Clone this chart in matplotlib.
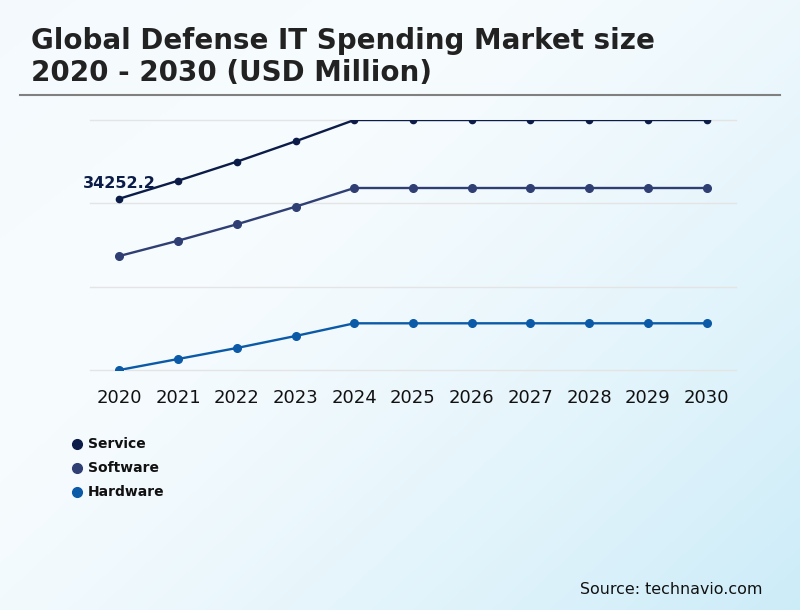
import numpy as np
import matplotlib
matplotlib.use("Agg")
import matplotlib.pyplot as plt
from matplotlib.lines import Line2D

plt.rcParams["font.family"] = ["DejaVu Sans"]

YEARS = [2020, 2021, 2022, 2023, 2024, 2025, 2026, 2027, 2028, 2029, 2030]
SERIES = ["Service", "Software", "Hardware"]
SERVICE = [34252.2, 36050, 37950, 39990, 42120, 42120, 42120, 42120, 42120, 42120, 42120]
SOFTWARE = [28520, 30050, 31690, 33450, 35320, 35320, 35320, 35320, 35320, 35320, 35320]
HARDWARE = [17120, 18220, 19320, 20520, 21790, 21790, 21790, 21790, 21790, 21790, 21790]

COLORS = {
    "Service": "#0c1c48",
    "Software": "#2f3f74",
    "Hardware": "#0b5aa8",
}
MARKER_SIZES = {"Service": 4.5, "Software": 5.5, "Hardware": 5.5}


def gradient_background(fig):
    bg = fig.add_axes([0, 0, 1, 1], zorder=-10)
    h, w = 305, 400
    yy, xx = np.mgrid[0:h, 0:w]
    t = (xx / w * 0.55 + yy / h * 0.45)
    t = np.clip((t - 0.35) / 0.65, 0, 1) ** 1.3
    top = np.array([0.965, 0.985, 0.995])
    bot = np.array([0.80, 0.925, 0.975])
    img = top[None, None, :] * (1 - t[..., None]) + bot[None, None, :] * t[..., None]
    # slight tint at the very top-left corner
    corner = np.clip(1 - (xx / w + yy / h) * 2.5, 0, 1)[..., None]
    img = img * (1 - corner * 0.3) + np.array([0.93, 0.965, 0.985]) * corner * 0.3
    bg.imshow(img, aspect="auto", extent=[0, 1, 0, 1], origin="upper")
    bg.set_axis_off()


fig = plt.figure(figsize=(8, 6.1), dpi=100)
gradient_background(fig)

W, H = 800, 610
ax = fig.add_axes([90 / W, 1 - 370 / H, (736 - 90) / W, (370 - 120) / H])
ax.patch.set_alpha(0)

data = {"Service": SERVICE, "Software": SOFTWARE, "Hardware": HARDWARE}
for name in SERIES:
    ax.plot(YEARS, data[name], color=COLORS[name], lw=1.7, marker="o",
            ms=MARKER_SIZES[name], zorder=3)

lo = min(HARDWARE)
hi = max(SERVICE)
ax.set_ylim(lo, hi)
ax.set_xlim(2019.5, 2030.5)
ax.set_yticks(np.linspace(lo, hi, 4))
ax.set_yticklabels([])
ax.grid(axis="y", color="#e4e4e4", lw=1)
for gl in ax.get_ygridlines():
    gl.set_clip_on(False)
ax.set_axisbelow(True)
ax.set_xticks(YEARS)
ax.set_xticklabels([str(y) for y in YEARS], fontsize=13, color="#111111")
ax.tick_params(axis="x", length=0, pad=14)
ax.tick_params(axis="y", length=0)
for sp in ax.spines.values():
    sp.set_visible(False)

ax.annotate(f"{SERVICE[0]}", xy=(YEARS[0], SERVICE[0]), xytext=(0, 11),
            textcoords="offset points", ha="center", va="center",
            fontsize=11.5, fontweight="bold", color=COLORS["Service"], zorder=5)

# title and separator
fig.text(31 / W, 1 - 27 / H, "Global Defense IT Spending Market size\n2020 - 2030 (USD Million)",
         ha="left", va="top", fontsize=20, fontweight="bold", color="#222222",
         linespacing=1.18)
fig.add_artist(Line2D([20 / W, 780 / W], [1 - 95 / H, 1 - 95 / H],
                      transform=fig.transFigure, color="#808080", lw=1.5))

# legend
for i, name in enumerate(SERIES):
    yc = 1 - (444 + 24 * i) / H
    fig.add_artist(Line2D([77 / W], [yc], transform=fig.transFigure, marker="o",
                          ms=7, color=COLORS[name], lw=0))
    fig.text(88 / W, yc, name, ha="left", va="center", fontsize=10,
             fontweight="bold", color="#111111")

fig.text(762 / W, 1 - 589 / H, "Source: technavio.com", ha="right", va="center",
         fontsize=11.4, color="#111111")

fig.savefig("out.png", dpi=100)
